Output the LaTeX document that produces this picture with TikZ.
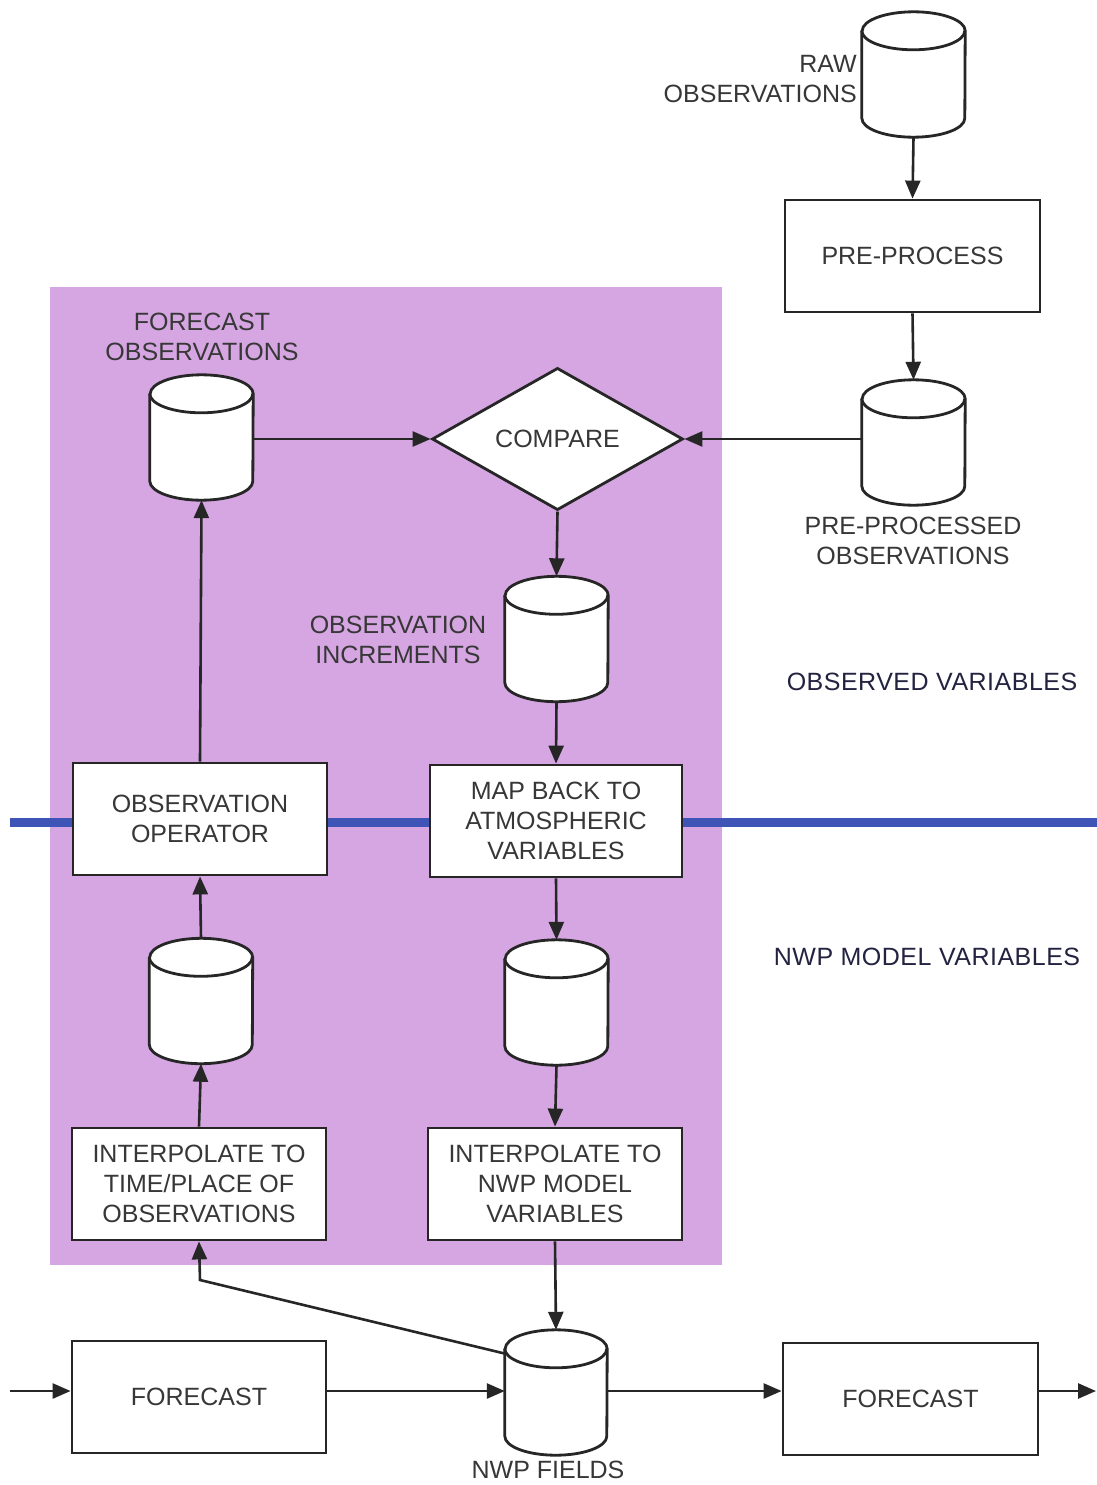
\documentclass[tikz,border=0pt]{standalone}
\usepackage{fontspec}
\setmainfont{Liberation Sans}
\newfontfamily\varfont[LetterSpace=2]{Liberation Sans}
\usetikzlibrary{shapes.geometric,arrows.meta,calc}
\definecolor{panel}{RGB}{214,166,226}
\definecolor{band}{RGB}{62,84,182}
\definecolor{ink}{RGB}{55,55,55}
\definecolor{labink}{RGB}{35,35,65}
\newcommand\drawdb[2]{%
  \path[dbline, fill=white]
    ($(#1.north west)+(0pt,-19pt)$) -- ($(#1.south west)+(0pt,19pt)$)
    arc[start angle=180, end angle=360, x radius=#2, y radius=19pt]
    -- ($(#1.north east)+(0pt,-19pt)$)
    arc[start angle=0, end angle=180, x radius=#2, y radius=19pt] -- cycle;
  \path[dbline]
    ($(#1.north west)+(0pt,-19pt)$)
    arc[start angle=180, end angle=360, x radius=#2, y radius=19pt];
}
\begin{document}
\begin{tikzpicture}[x=1pt,y=-1pt,
  every node/.style={font=\fontsize{25}{30}\selectfont, text=ink},
  proc/.style={draw=black!85, line width=2.8pt, fill=white, rectangle, minimum width=254pt, minimum height=112pt, align=center, inner sep=0pt},
  db/.style={rectangle, minimum width=103pt, minimum height=125pt, inner sep=0pt},
  dbline/.style={draw=black!85, line width=2.8pt, line join=round},
  decide/.style={draw=black!85, line width=2.8pt, fill=white, diamond, minimum width=251pt, minimum height=122pt, inner sep=0pt},
  lab/.style={align=center, inner sep=0pt},
  varlab/.style={inner sep=0pt, text=labink, font=\varfont\fontsize{25}{30}\selectfont},
  arr/.style={draw=black!85, line width=2.6pt, -{Triangle[length=18pt,width=15pt]}}]
\useasboundingbox (0,0) rectangle (1097,1485);
\fill[white] (0,0) rectangle (1097,1485);
% purple panel
\fill[panel] (50,287) rectangle (722,1265);
% blue band
\draw[band, line width=9pt] (10,822) -- (1097,822);

% nodes
\node[db] (raw) at (913.5,74.5) {};
\node[lab, anchor=east, align=right] (rawl) at (857,79) {RAW\\OBSERVATIONS};
\node[proc, minimum width=255pt] (pre) at (912.5,256) {PRE-PROCESS};
\node[db] (ppo) at (913.5,442.5) {};
\node[lab] (ppol) at (913,541) {PRE-PROCESSED\\OBSERVATIONS};
\node[decide] (cmp) at (557.5,439) {COMPARE};
\node[db] (fco) at (201.5,437.5) {};
\node[lab] (fcol) at (202,337) {FORECAST\\OBSERVATIONS};
\node[db] (inc) at (556.5,639) {};
\node[lab] (incl) at (398,640) {OBSERVATION\\INCREMENTS};
\node[proc, minimum width=252pt] (map) at (556,821) {MAP BACK TO\\ATMOSPHERIC\\VARIABLES};
\node[db] (mcyl) at (556.5,1002.5) {};
\node[proc] (inwp) at (555,1184) {INTERPOLATE TO\\NWP MODEL\\VARIABLES};
\node[db, minimum width=102pt] (nwp) at (556,1392.5) {};
\node[lab] (nwpl) at (548,1470) {NWP FIELDS};
\node[proc] (iobs) at (199,1184) {INTERPOLATE TO\\TIME/PLACE OF\\OBSERVATIONS};
\node[db] (lcyl) at (201,1001) {};
\node[proc] (oop) at (200,819) {OBSERVATION\\OPERATOR};
\node[proc] (f1) at (199,1397) {FORECAST};
\node[proc, minimum width=255pt] (f2) at (910.5,1399) {FORECAST};
\node[varlab] (obsv) at (932,682) {OBSERVED VARIABLES};
\node[varlab] (nwpv) at (927,957) {NWP MODEL VARIABLES};

% cylinder outlines
\drawdb{raw}{51.5pt}
\drawdb{ppo}{51.5pt}
\drawdb{fco}{51.5pt}
\drawdb{inc}{51.5pt}
\drawdb{mcyl}{51.5pt}
\drawdb{lcyl}{51.5pt}
\drawdb{nwp}{51pt}

\coordinate (in) at (10,1391);
\coordinate (out) at (1096,1391);
\coordinate (bend) at (200,1280);
\coordinate (nwpd) at ($(nwp.north west)+(1pt,-24pt)$);

% connectors
\draw[arr] (raw.south) -- (pre.north);
\draw[arr] (pre.south) -- (ppo.north);
\draw[arr] (ppo.west |- cmp.east) -- (cmp.east);
\draw[arr] (fco.east |- cmp.west) -- (cmp.west);
\draw[arr] (cmp.south) -- (inc.north);
\draw[arr] (inc.south) -- (map.north);
\draw[arr] (map.south) -- (mcyl.north);
\draw[arr] (mcyl.south) -- (inwp.north);
\draw[arr] (inwp.south) -- (nwp.north);
\draw[arr] (nwpd) -- (bend) -- (iobs.south);
\draw[arr] (iobs.north) -- (lcyl.south);
\draw[arr] (lcyl.north) -- (oop.south);
\draw[arr] (oop.north) -- (fco.south);
\draw[arr] (in) -- (in -| f1.west);
\draw[arr] (in -| f1.east) -- (in -| nwp.west);
\draw[arr] (in -| nwp.east) -- (in -| f2.west);
\draw[arr] (in -| f2.east) -- (out);
\end{tikzpicture}
\end{document}
